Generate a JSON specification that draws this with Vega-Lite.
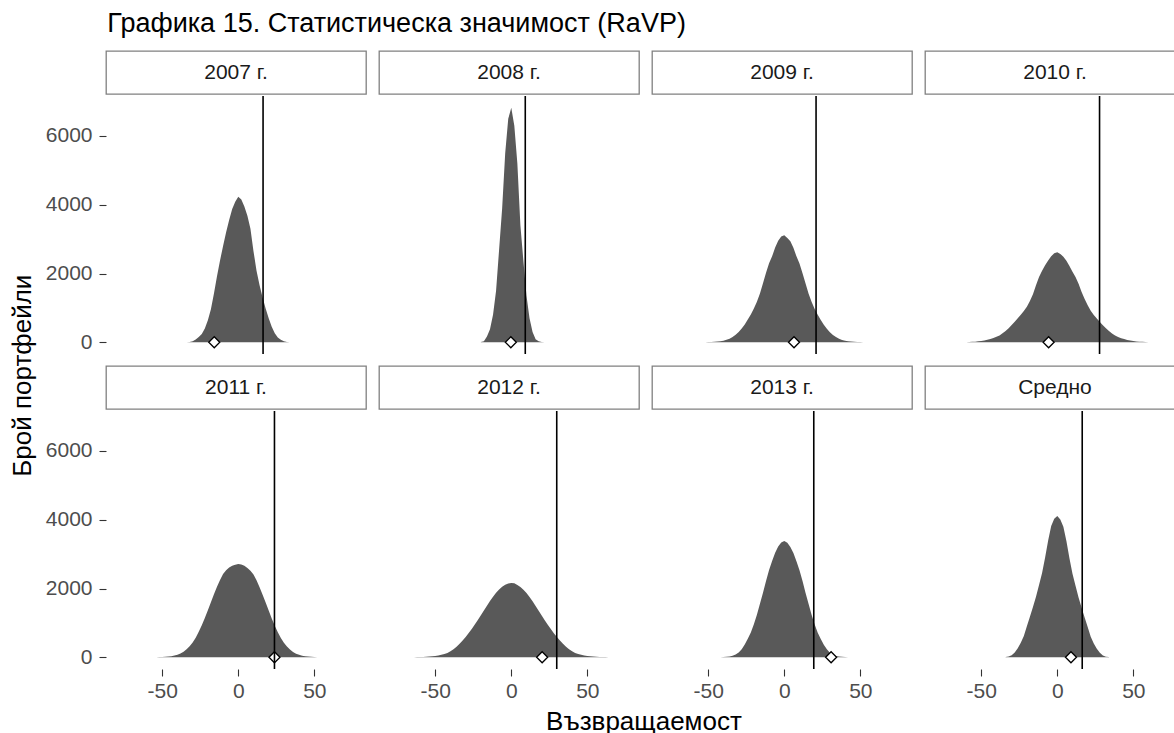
{
  "$schema": "https://vega.github.io/schema/vega-lite/v6.json",
  "padding": {"left": 10, "top": 10, "right": 0, "bottom": 0},
  "title": {"text": "Графика 15. Статистическа значимост (RaVP)", "anchor": "start", "frame": "bounds", "fontSize": 27, "fontWeight": "normal", "color": "#000000", "dx": 97, "offset": 12},
  "datasets": {
    "stats": [
      {"panel": "2007 г.", "crit": 16.3, "obs": -15.8},
      {"panel": "2008 г.", "crit": 9.2, "obs": -0.3},
      {"panel": "2009 г.", "crit": 20.9, "obs": 6.4},
      {"panel": "2010 г.", "crit": 27.8, "obs": -5.7},
      {"panel": "2011 г.", "crit": 23.8, "obs": 23.8},
      {"panel": "2012 г.", "crit": 29.9, "obs": 20.3},
      {"panel": "2013 г.", "crit": 19.4, "obs": 30.8},
      {"panel": "Средно", "crit": 16.4, "obs": 9.0}
    ],
    "h2007": [
      {"x":-34,"n":4},{"x":-32,"n":10},{"x":-30,"n":30},{"x":-28,"n":80},{"x":-26,"n":150},{"x":-24,"n":240},{"x":-22,"n":400},{"x":-20,"n":640},{"x":-18,"n":960},{"x":-16,"n":1420},{"x":-14,"n":1920},{"x":-12,"n":2380},{"x":-10,"n":2800},{"x":-8,"n":3200},{"x":-6,"n":3560},{"x":-4,"n":3880},{"x":-2,"n":4090},{"x":0,"n":4230},{"x":2,"n":4150},{"x":4,"n":3950},{"x":6,"n":3680},{"x":8,"n":3300},{"x":10,"n":2650},{"x":12,"n":2080},{"x":14,"n":1660},{"x":16,"n":1300},{"x":18,"n":980},{"x":20,"n":700},{"x":22,"n":450},{"x":24,"n":260},{"x":26,"n":140},{"x":28,"n":70},{"x":30,"n":30},{"x":32,"n":10},{"x":34,"n":4}
    ],
    "h2008": [
      {"x":-20,"n":5},{"x":-18,"n":30},{"x":-16,"n":170},{"x":-14,"n":380},{"x":-12,"n":800},{"x":-10,"n":1500},{"x":-8,"n":2700},{"x":-6,"n":3900},{"x":-4,"n":5500},{"x":-2,"n":6500},{"x":0,"n":6820},{"x":2,"n":6300},{"x":4,"n":5200},{"x":6,"n":3400},{"x":8,"n":2350},{"x":10,"n":1350},{"x":12,"n":700},{"x":14,"n":300},{"x":16,"n":90},{"x":18,"n":30},{"x":20,"n":10},{"x":22,"n":3}
    ],
    "h2009": [
      {"x":-54,"n":2},{"x":-52,"n":3},{"x":-50,"n":5},{"x":-48,"n":8},{"x":-46,"n":13},{"x":-44,"n":20},{"x":-42,"n":32},{"x":-40,"n":48},{"x":-38,"n":70},{"x":-36,"n":105},{"x":-34,"n":155},{"x":-32,"n":220},{"x":-30,"n":300},{"x":-28,"n":400},{"x":-26,"n":520},{"x":-24,"n":660},{"x":-22,"n":810},{"x":-20,"n":980},{"x":-18,"n":1180},{"x":-16,"n":1420},{"x":-14,"n":1720},{"x":-12,"n":2020},{"x":-10,"n":2300},{"x":-8,"n":2500},{"x":-6,"n":2760},{"x":-4,"n":2950},{"x":-2,"n":3080},{"x":0,"n":3110},{"x":2,"n":3030},{"x":4,"n":2940},{"x":6,"n":2750},{"x":8,"n":2500},{"x":10,"n":2290},{"x":12,"n":2010},{"x":14,"n":1710},{"x":16,"n":1410},{"x":18,"n":1170},{"x":20,"n":970},{"x":22,"n":800},{"x":24,"n":650},{"x":26,"n":510},{"x":28,"n":395},{"x":30,"n":295},{"x":32,"n":215},{"x":34,"n":150},{"x":36,"n":100},{"x":38,"n":68},{"x":40,"n":46},{"x":42,"n":30},{"x":44,"n":19},{"x":46,"n":12},{"x":48,"n":8},{"x":50,"n":5},{"x":52,"n":3},{"x":54,"n":2}
    ],
    "h2010": [
      {"x":-62,"n":2},{"x":-60,"n":4},{"x":-58,"n":7},{"x":-56,"n":12},{"x":-54,"n":18},{"x":-52,"n":27},{"x":-50,"n":38},{"x":-48,"n":52},{"x":-46,"n":70},{"x":-44,"n":95},{"x":-42,"n":125},{"x":-40,"n":160},{"x":-38,"n":200},{"x":-36,"n":260},{"x":-34,"n":330},{"x":-32,"n":410},{"x":-30,"n":500},{"x":-28,"n":600},{"x":-26,"n":700},{"x":-24,"n":800},{"x":-22,"n":910},{"x":-20,"n":1030},{"x":-18,"n":1200},{"x":-16,"n":1400},{"x":-14,"n":1660},{"x":-12,"n":1900},{"x":-10,"n":2080},{"x":-8,"n":2240},{"x":-6,"n":2380},{"x":-4,"n":2500},{"x":-2,"n":2590},{"x":0,"n":2620},{"x":2,"n":2570},{"x":4,"n":2490},{"x":6,"n":2370},{"x":8,"n":2220},{"x":10,"n":2050},{"x":12,"n":1900},{"x":14,"n":1700},{"x":16,"n":1460},{"x":18,"n":1260},{"x":20,"n":1080},{"x":22,"n":920},{"x":24,"n":790},{"x":26,"n":690},{"x":28,"n":590},{"x":30,"n":495},{"x":32,"n":405},{"x":34,"n":325},{"x":36,"n":255},{"x":38,"n":200},{"x":40,"n":155},{"x":42,"n":120},{"x":44,"n":92},{"x":46,"n":68},{"x":48,"n":50},{"x":50,"n":36},{"x":52,"n":26},{"x":54,"n":18},{"x":56,"n":12},{"x":58,"n":7},{"x":60,"n":4},{"x":62,"n":2}
    ],
    "h2011": [
      {"x":-54,"n":3},{"x":-52,"n":5},{"x":-50,"n":8},{"x":-48,"n":13},{"x":-46,"n":21},{"x":-44,"n":33},{"x":-42,"n":50},{"x":-40,"n":75},{"x":-38,"n":110},{"x":-36,"n":160},{"x":-34,"n":230},{"x":-32,"n":320},{"x":-30,"n":430},{"x":-28,"n":570},{"x":-26,"n":740},{"x":-24,"n":930},{"x":-22,"n":1140},{"x":-20,"n":1370},{"x":-18,"n":1600},{"x":-16,"n":1830},{"x":-14,"n":2050},{"x":-12,"n":2250},{"x":-10,"n":2420},{"x":-8,"n":2530},{"x":-6,"n":2610},{"x":-4,"n":2660},{"x":-2,"n":2690},{"x":0,"n":2710},{"x":2,"n":2700},{"x":4,"n":2660},{"x":6,"n":2600},{"x":8,"n":2520},{"x":10,"n":2410},{"x":12,"n":2240},{"x":14,"n":2040},{"x":16,"n":1820},{"x":18,"n":1590},{"x":20,"n":1360},{"x":22,"n":1130},{"x":24,"n":920},{"x":26,"n":730},{"x":28,"n":560},{"x":30,"n":420},{"x":32,"n":310},{"x":34,"n":225},{"x":36,"n":155},{"x":38,"n":105},{"x":40,"n":72},{"x":42,"n":48},{"x":44,"n":32},{"x":46,"n":20},{"x":48,"n":12},{"x":50,"n":7},{"x":52,"n":4},{"x":54,"n":2}
    ],
    "h2012": [
      {"x":-68,"n":1},{"x":-66,"n":2},{"x":-64,"n":3},{"x":-62,"n":5},{"x":-60,"n":7},{"x":-58,"n":10},{"x":-56,"n":14},{"x":-54,"n":20},{"x":-52,"n":28},{"x":-50,"n":38},{"x":-48,"n":52},{"x":-46,"n":70},{"x":-44,"n":95},{"x":-42,"n":128},{"x":-40,"n":175},{"x":-38,"n":235},{"x":-36,"n":305},{"x":-34,"n":390},{"x":-32,"n":485},{"x":-30,"n":590},{"x":-28,"n":705},{"x":-26,"n":825},{"x":-24,"n":950},{"x":-22,"n":1085},{"x":-20,"n":1220},{"x":-18,"n":1360},{"x":-16,"n":1500},{"x":-14,"n":1635},{"x":-12,"n":1760},{"x":-10,"n":1875},{"x":-8,"n":1970},{"x":-6,"n":2050},{"x":-4,"n":2110},{"x":-2,"n":2145},{"x":0,"n":2160},{"x":2,"n":2150},{"x":4,"n":2105},{"x":6,"n":2045},{"x":8,"n":1965},{"x":10,"n":1870},{"x":12,"n":1755},{"x":14,"n":1630},{"x":16,"n":1495},{"x":18,"n":1355},{"x":20,"n":1215},{"x":22,"n":1080},{"x":24,"n":945},{"x":26,"n":820},{"x":28,"n":700},{"x":30,"n":590},{"x":32,"n":485},{"x":34,"n":390},{"x":36,"n":305},{"x":38,"n":235},{"x":40,"n":175},{"x":42,"n":128},{"x":44,"n":95},{"x":46,"n":70},{"x":48,"n":52},{"x":50,"n":38},{"x":52,"n":28},{"x":54,"n":20},{"x":56,"n":14},{"x":58,"n":10},{"x":60,"n":7},{"x":62,"n":5},{"x":64,"n":3},{"x":66,"n":2},{"x":68,"n":1}
    ],
    "h2013": [
      {"x":-46,"n":1},{"x":-44,"n":2},{"x":-42,"n":4},{"x":-40,"n":8},{"x":-38,"n":14},{"x":-36,"n":25},{"x":-34,"n":45},{"x":-32,"n":80},{"x":-30,"n":140},{"x":-28,"n":235},{"x":-26,"n":370},{"x":-24,"n":540},{"x":-22,"n":720},{"x":-20,"n":960},{"x":-18,"n":1240},{"x":-16,"n":1560},{"x":-14,"n":1880},{"x":-12,"n":2220},{"x":-10,"n":2540},{"x":-8,"n":2800},{"x":-6,"n":3040},{"x":-4,"n":3220},{"x":-2,"n":3340},{"x":0,"n":3380},{"x":2,"n":3330},{"x":4,"n":3210},{"x":6,"n":3030},{"x":8,"n":2790},{"x":10,"n":2530},{"x":12,"n":2220},{"x":14,"n":1870},{"x":16,"n":1550},{"x":18,"n":1230},{"x":20,"n":950},{"x":22,"n":710},{"x":24,"n":530},{"x":26,"n":365},{"x":28,"n":230},{"x":30,"n":135},{"x":32,"n":75},{"x":34,"n":40},{"x":36,"n":24},{"x":38,"n":13},{"x":40,"n":7},{"x":42,"n":4},{"x":44,"n":2},{"x":46,"n":1}
    ],
    "hAvg": [
      {"x":-34,"n":5},{"x":-32,"n":20},{"x":-30,"n":60},{"x":-28,"n":140},{"x":-26,"n":260},{"x":-24,"n":420},{"x":-22,"n":620},{"x":-20,"n":900},{"x":-18,"n":1180},{"x":-16,"n":1460},{"x":-14,"n":1760},{"x":-12,"n":2100},{"x":-10,"n":2450},{"x":-8,"n":2900},{"x":-6,"n":3400},{"x":-4,"n":3820},{"x":-2,"n":4030},{"x":0,"n":4110},{"x":2,"n":4010},{"x":4,"n":3800},{"x":6,"n":3380},{"x":8,"n":2880},{"x":10,"n":2430},{"x":12,"n":2080},{"x":14,"n":1740},{"x":16,"n":1440},{"x":18,"n":1160},{"x":20,"n":880},{"x":22,"n":600},{"x":24,"n":400},{"x":26,"n":245},{"x":28,"n":130},{"x":30,"n":55},{"x":32,"n":18},{"x":34,"n":5}
    ]
  },
  "vconcat": [
    {
      "title": {"text": "Възвращаемост", "orient": "bottom", "anchor": "middle", "fontSize": 26, "fontWeight": "normal", "color": "#000000", "offset": 8, "dx": 46},
      "vconcat": [
        {
          "title": {"text": "Брой портфейли", "orient": "left", "anchor": "middle", "fontSize": 26, "fontWeight": "normal", "color": "#000000", "offset": 9},
          "columns": 4,
          "spacing": {"row": 10, "column": 11},
          "align": "each",
          "concat": [
            {
              "spacing": 0,
              "vconcat": [
                {"width": 260, "height": 43, "data": {"name": "stats"}, "transform": [{"filter": "datum.panel === '2007 г.'"}], "view": {"stroke": "#808080", "strokeWidth": 1.3, "fill": "#ffffff"}, "mark": {"type": "text", "fontSize": 21, "color": "#1a1a1a", "baseline": "middle", "align": "center"}, "encoding": {"text": {"field": "panel"}}},
                {"width": 260, "height": 258, "layer": [
                  {"data": {"name": "h2007"}, "mark": {"type": "area", "interpolate": "linear", "color": "#595959"}, "encoding": {"x": {"field": "x", "type": "quantitative", "scale": {"domain": [-87, 84], "nice": false, "zero": false}, "axis": null}, "y": {"field": "n", "type": "quantitative", "stack": null, "scale": {"domain": [-341, 7163], "nice": false, "zero": false}, "axis": {"values": [0, 2000, 4000, 6000], "format": "d", "title": null, "labelPadding": 7}}}},
                  {"data": {"name": "stats"}, "transform": [{"filter": "datum.panel === '2007 г.'"}], "mark": {"type": "point", "shape": "diamond", "filled": true, "fill": "#ffffff", "stroke": "#000000", "strokeWidth": 1.3, "size": 121, "opacity": 1}, "encoding": {"x": {"field": "obs", "type": "quantitative", "title": null}, "y": {"datum": 0, "type": "quantitative", "title": null}}},
                  {"data": {"name": "stats"}, "transform": [{"filter": "datum.panel === '2007 г.'"}], "mark": {"type": "rule", "color": "#000000", "strokeWidth": 1.6}, "encoding": {"x": {"field": "crit", "type": "quantitative", "title": null}}}
                ]}
              ]
            },
            {
              "spacing": 0,
              "vconcat": [
                {"width": 260, "height": 43, "data": {"name": "stats"}, "transform": [{"filter": "datum.panel === '2008 г.'"}], "view": {"stroke": "#808080", "strokeWidth": 1.3, "fill": "#ffffff"}, "mark": {"type": "text", "fontSize": 21, "color": "#1a1a1a", "baseline": "middle", "align": "center"}, "encoding": {"text": {"field": "panel"}}},
                {"width": 260, "height": 258, "layer": [
                  {"data": {"name": "h2008"}, "mark": {"type": "area", "interpolate": "linear", "color": "#595959"}, "encoding": {"x": {"field": "x", "type": "quantitative", "scale": {"domain": [-87, 84], "nice": false, "zero": false}, "axis": null}, "y": {"field": "n", "type": "quantitative", "stack": null, "scale": {"domain": [-341, 7163], "nice": false, "zero": false}, "axis": null}}},
                  {"data": {"name": "stats"}, "transform": [{"filter": "datum.panel === '2008 г.'"}], "mark": {"type": "point", "shape": "diamond", "filled": true, "fill": "#ffffff", "stroke": "#000000", "strokeWidth": 1.3, "size": 121, "opacity": 1}, "encoding": {"x": {"field": "obs", "type": "quantitative", "title": null}, "y": {"datum": 0, "type": "quantitative", "title": null}}},
                  {"data": {"name": "stats"}, "transform": [{"filter": "datum.panel === '2008 г.'"}], "mark": {"type": "rule", "color": "#000000", "strokeWidth": 1.6}, "encoding": {"x": {"field": "crit", "type": "quantitative", "title": null}}}
                ]}
              ]
            },
            {
              "spacing": 0,
              "vconcat": [
                {"width": 260, "height": 43, "data": {"name": "stats"}, "transform": [{"filter": "datum.panel === '2009 г.'"}], "view": {"stroke": "#808080", "strokeWidth": 1.3, "fill": "#ffffff"}, "mark": {"type": "text", "fontSize": 21, "color": "#1a1a1a", "baseline": "middle", "align": "center"}, "encoding": {"text": {"field": "panel"}}},
                {"width": 260, "height": 258, "layer": [
                  {"data": {"name": "h2009"}, "mark": {"type": "area", "interpolate": "linear", "color": "#595959"}, "encoding": {"x": {"field": "x", "type": "quantitative", "scale": {"domain": [-87, 84], "nice": false, "zero": false}, "axis": null}, "y": {"field": "n", "type": "quantitative", "stack": null, "scale": {"domain": [-341, 7163], "nice": false, "zero": false}, "axis": null}}},
                  {"data": {"name": "stats"}, "transform": [{"filter": "datum.panel === '2009 г.'"}], "mark": {"type": "point", "shape": "diamond", "filled": true, "fill": "#ffffff", "stroke": "#000000", "strokeWidth": 1.3, "size": 121, "opacity": 1}, "encoding": {"x": {"field": "obs", "type": "quantitative", "title": null}, "y": {"datum": 0, "type": "quantitative", "title": null}}},
                  {"data": {"name": "stats"}, "transform": [{"filter": "datum.panel === '2009 г.'"}], "mark": {"type": "rule", "color": "#000000", "strokeWidth": 1.6}, "encoding": {"x": {"field": "crit", "type": "quantitative", "title": null}}}
                ]}
              ]
            },
            {
              "spacing": 0,
              "vconcat": [
                {"width": 260, "height": 43, "data": {"name": "stats"}, "transform": [{"filter": "datum.panel === '2010 г.'"}], "view": {"stroke": "#808080", "strokeWidth": 1.3, "fill": "#ffffff"}, "mark": {"type": "text", "fontSize": 21, "color": "#1a1a1a", "baseline": "middle", "align": "center"}, "encoding": {"text": {"field": "panel"}}},
                {"width": 260, "height": 258, "layer": [
                  {"data": {"name": "h2010"}, "mark": {"type": "area", "interpolate": "linear", "color": "#595959"}, "encoding": {"x": {"field": "x", "type": "quantitative", "scale": {"domain": [-87, 84], "nice": false, "zero": false}, "axis": null}, "y": {"field": "n", "type": "quantitative", "stack": null, "scale": {"domain": [-341, 7163], "nice": false, "zero": false}, "axis": null}}},
                  {"data": {"name": "stats"}, "transform": [{"filter": "datum.panel === '2010 г.'"}], "mark": {"type": "point", "shape": "diamond", "filled": true, "fill": "#ffffff", "stroke": "#000000", "strokeWidth": 1.3, "size": 121, "opacity": 1}, "encoding": {"x": {"field": "obs", "type": "quantitative", "title": null}, "y": {"datum": 0, "type": "quantitative", "title": null}}},
                  {"data": {"name": "stats"}, "transform": [{"filter": "datum.panel === '2010 г.'"}], "mark": {"type": "rule", "color": "#000000", "strokeWidth": 1.6}, "encoding": {"x": {"field": "crit", "type": "quantitative", "title": null}}}
                ]}
              ]
            },
            {
              "spacing": 0,
              "vconcat": [
                {"width": 260, "height": 43, "data": {"name": "stats"}, "transform": [{"filter": "datum.panel === '2011 г.'"}], "view": {"stroke": "#808080", "strokeWidth": 1.3, "fill": "#ffffff"}, "mark": {"type": "text", "fontSize": 21, "color": "#1a1a1a", "baseline": "middle", "align": "center"}, "encoding": {"text": {"field": "panel"}}},
                {"width": 260, "height": 258, "layer": [
                  {"data": {"name": "h2011"}, "mark": {"type": "area", "interpolate": "linear", "color": "#595959"}, "encoding": {"x": {"field": "x", "type": "quantitative", "scale": {"domain": [-87, 84], "nice": false, "zero": false}, "axis": {"values": [-50, 0, 50], "labelExpr": "'' + datum.value", "title": null, "labelPadding": 4}}, "y": {"field": "n", "type": "quantitative", "stack": null, "scale": {"domain": [-341, 7163], "nice": false, "zero": false}, "axis": {"values": [0, 2000, 4000, 6000], "format": "d", "title": null, "labelPadding": 7}}}},
                  {"data": {"name": "stats"}, "transform": [{"filter": "datum.panel === '2011 г.'"}], "mark": {"type": "point", "shape": "diamond", "filled": true, "fill": "#ffffff", "stroke": "#000000", "strokeWidth": 1.3, "size": 121, "opacity": 1}, "encoding": {"x": {"field": "obs", "type": "quantitative", "title": null}, "y": {"datum": 0, "type": "quantitative", "title": null}}},
                  {"data": {"name": "stats"}, "transform": [{"filter": "datum.panel === '2011 г.'"}], "mark": {"type": "rule", "color": "#000000", "strokeWidth": 1.6}, "encoding": {"x": {"field": "crit", "type": "quantitative", "title": null}}}
                ]}
              ]
            },
            {
              "spacing": 0,
              "vconcat": [
                {"width": 260, "height": 43, "data": {"name": "stats"}, "transform": [{"filter": "datum.panel === '2012 г.'"}], "view": {"stroke": "#808080", "strokeWidth": 1.3, "fill": "#ffffff"}, "mark": {"type": "text", "fontSize": 21, "color": "#1a1a1a", "baseline": "middle", "align": "center"}, "encoding": {"text": {"field": "panel"}}},
                {"width": 260, "height": 258, "layer": [
                  {"data": {"name": "h2012"}, "mark": {"type": "area", "interpolate": "linear", "color": "#595959"}, "encoding": {"x": {"field": "x", "type": "quantitative", "scale": {"domain": [-87, 84], "nice": false, "zero": false}, "axis": {"values": [-50, 0, 50], "labelExpr": "'' + datum.value", "title": null, "labelPadding": 4}}, "y": {"field": "n", "type": "quantitative", "stack": null, "scale": {"domain": [-341, 7163], "nice": false, "zero": false}, "axis": null}}},
                  {"data": {"name": "stats"}, "transform": [{"filter": "datum.panel === '2012 г.'"}], "mark": {"type": "point", "shape": "diamond", "filled": true, "fill": "#ffffff", "stroke": "#000000", "strokeWidth": 1.3, "size": 121, "opacity": 1}, "encoding": {"x": {"field": "obs", "type": "quantitative", "title": null}, "y": {"datum": 0, "type": "quantitative", "title": null}}},
                  {"data": {"name": "stats"}, "transform": [{"filter": "datum.panel === '2012 г.'"}], "mark": {"type": "rule", "color": "#000000", "strokeWidth": 1.6}, "encoding": {"x": {"field": "crit", "type": "quantitative", "title": null}}}
                ]}
              ]
            },
            {
              "spacing": 0,
              "vconcat": [
                {"width": 260, "height": 43, "data": {"name": "stats"}, "transform": [{"filter": "datum.panel === '2013 г.'"}], "view": {"stroke": "#808080", "strokeWidth": 1.3, "fill": "#ffffff"}, "mark": {"type": "text", "fontSize": 21, "color": "#1a1a1a", "baseline": "middle", "align": "center"}, "encoding": {"text": {"field": "panel"}}},
                {"width": 260, "height": 258, "layer": [
                  {"data": {"name": "h2013"}, "mark": {"type": "area", "interpolate": "linear", "color": "#595959"}, "encoding": {"x": {"field": "x", "type": "quantitative", "scale": {"domain": [-87, 84], "nice": false, "zero": false}, "axis": {"values": [-50, 0, 50], "labelExpr": "'' + datum.value", "title": null, "labelPadding": 4}}, "y": {"field": "n", "type": "quantitative", "stack": null, "scale": {"domain": [-341, 7163], "nice": false, "zero": false}, "axis": null}}},
                  {"data": {"name": "stats"}, "transform": [{"filter": "datum.panel === '2013 г.'"}], "mark": {"type": "point", "shape": "diamond", "filled": true, "fill": "#ffffff", "stroke": "#000000", "strokeWidth": 1.3, "size": 121, "opacity": 1}, "encoding": {"x": {"field": "obs", "type": "quantitative", "title": null}, "y": {"datum": 0, "type": "quantitative", "title": null}}},
                  {"data": {"name": "stats"}, "transform": [{"filter": "datum.panel === '2013 г.'"}], "mark": {"type": "rule", "color": "#000000", "strokeWidth": 1.6}, "encoding": {"x": {"field": "crit", "type": "quantitative", "title": null}}}
                ]}
              ]
            },
            {
              "spacing": 0,
              "vconcat": [
                {"width": 260, "height": 43, "data": {"name": "stats"}, "transform": [{"filter": "datum.panel === 'Средно'"}], "view": {"stroke": "#808080", "strokeWidth": 1.3, "fill": "#ffffff"}, "mark": {"type": "text", "fontSize": 21, "color": "#1a1a1a", "baseline": "middle", "align": "center"}, "encoding": {"text": {"field": "panel"}}},
                {"width": 260, "height": 258, "layer": [
                  {"data": {"name": "hAvg"}, "mark": {"type": "area", "interpolate": "linear", "color": "#595959"}, "encoding": {"x": {"field": "x", "type": "quantitative", "scale": {"domain": [-87, 84], "nice": false, "zero": false}, "axis": {"values": [-50, 0, 50], "labelExpr": "'' + datum.value", "title": null, "labelPadding": 4}}, "y": {"field": "n", "type": "quantitative", "stack": null, "scale": {"domain": [-341, 7163], "nice": false, "zero": false}, "axis": null}}},
                  {"data": {"name": "stats"}, "transform": [{"filter": "datum.panel === 'Средно'"}], "mark": {"type": "point", "shape": "diamond", "filled": true, "fill": "#ffffff", "stroke": "#000000", "strokeWidth": 1.3, "size": 121, "opacity": 1}, "encoding": {"x": {"field": "obs", "type": "quantitative", "title": null}, "y": {"datum": 0, "type": "quantitative", "title": null}}},
                  {"data": {"name": "stats"}, "transform": [{"filter": "datum.panel === 'Средно'"}], "mark": {"type": "rule", "color": "#000000", "strokeWidth": 1.6}, "encoding": {"x": {"field": "crit", "type": "quantitative", "title": null}}}
                ]}
              ]
            }
          ]
        }
      ]
    }
  ],
  "config": {
    "font": "Liberation Sans",
    "view": {"stroke": null},
    "axis": {"domain": false, "grid": false, "ticks": true, "tickSize": 7, "tickColor": "#333333", "tickWidth": 1.1, "labelFontSize": 21, "labelColor": "#4d4d4d", "labelPadding": 6}
  }
}
